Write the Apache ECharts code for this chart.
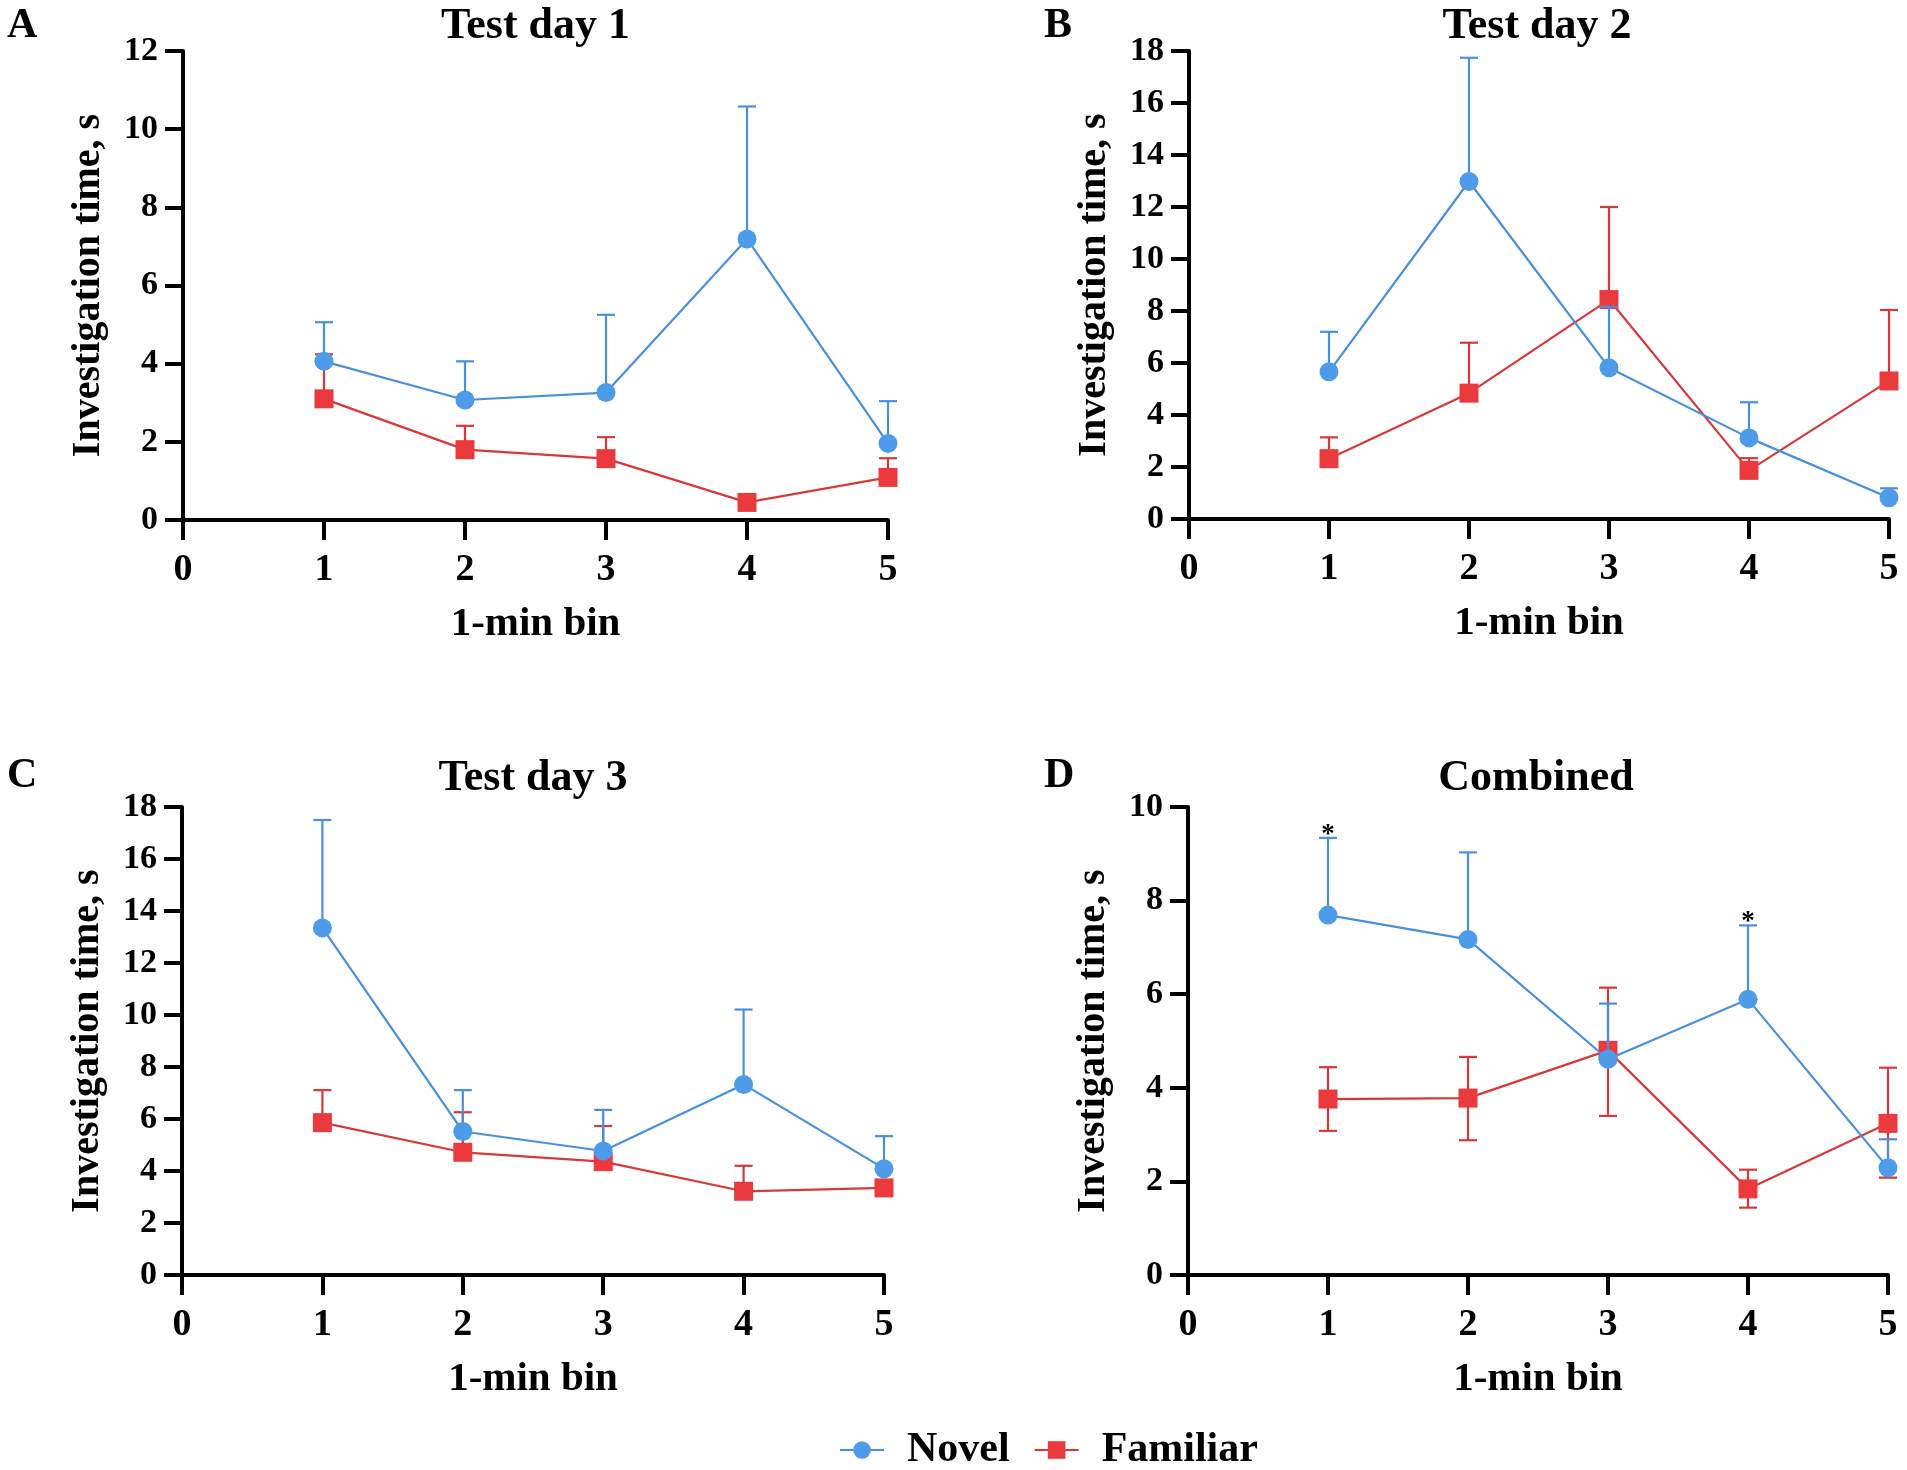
<!DOCTYPE html>
<html>
<head>
<meta charset="utf-8">
<title>Investigation time per 1-min bin</title>
<script src="https://cdn.jsdelivr.net/npm/echarts@6/dist/echarts.min.js"></script>
<style>
  html, body { margin: 0; padding: 0; background: #fff; }
  #chart { width: 1907px; height: 1470px; }
</style>
</head>
<body>
<div id="chart"></div>
<script>
  'use strict';

  // ---- data ----
  var bins = [1, 2, 3, 4, 5];
  var xTicks = [0, 1, 2, 3, 4, 5];
  var seriesNames = ['Novel', 'Familiar'];
  var panelLetters = ['A', 'B', 'C', 'D'];
  var panelTitles = ['Test day 1', 'Test day 2', 'Test day 3', 'Combined'];
  var yMax = [12, 18, 18, 10];

  // means
  var novelA = [4.06, 3.07, 3.26, 7.19, 1.96];
  var familiarA = [3.1, 1.8, 1.57, 0.45, 1.09];
  var novelB = [5.66, 12.98, 5.82, 3.12, 0.82];
  var familiarB = [2.32, 4.84, 8.44, 1.87, 5.31];
  var novelC = [13.35, 5.52, 4.77, 7.33, 4.09];
  var familiarC = [5.86, 4.72, 4.36, 3.22, 3.35];
  var novelD = [7.69, 7.17, 4.61, 5.89, 2.29];
  var familiarD = [3.76, 3.78, 4.8, 1.84, 3.24];

  // error bar ends (upper; lower only for familiar in Combined)
  var novelHighA = [5.06, 4.06, 5.25, 10.58, 3.04];
  var familiarHighA = [4.24, 2.41, 2.12, 0.62, 1.58];
  var novelHighB = [7.2, 17.74, 8.16, 4.49, 1.18];
  var familiarHighB = [3.14, 6.78, 12.0, 2.34, 8.04];
  var novelHighC = [17.5, 7.11, 6.35, 10.21, 5.34];
  var familiarHighC = [7.11, 6.26, 5.73, 4.2, 3.6];
  var novelHighD = [9.34, 9.03, 5.8, 7.47, 2.9];
  var familiarHighD = [4.44, 4.66, 6.14, 2.25, 4.43];
  var familiarLowD = [3.08, 2.88, 3.4, 1.44, 2.08];

  // significant bins in Combined panel
  var sigBinsD = [1, 4];

  var novelMeans = [novelA, novelB, novelC, novelD];
  var familiarMeans = [familiarA, familiarB, familiarC, familiarD];
  var novelHigh = [novelHighA, novelHighB, novelHighC, novelHighD];
  var familiarHigh = [familiarHighA, familiarHighB, familiarHighC, familiarHighD];
  var familiarLow = [familiarA, familiarB, familiarC, familiarLowD];

  // ---- styling / layout ----
  var FONT = '"Liberation Serif", "Times New Roman", serif';
  var BLUE = '#4e9be9';
  var BLUE_LINE = '#4a8fdc';
  var RED = '#ea3a3e';
  var RED_LINE = '#d9383b';

  var grids = [
    { left: 183, top: 51, width: 705, height: 469 },
    { left: 1189, top: 51, width: 700, height: 468 },
    { left: 182, top: 807, width: 702, height: 468 },
    { left: 1188, top: 807, width: 700, height: 468 }
  ];

  function pairs(xs, ys) {
    return xs.map(function (x, i) { return [x, ys[i]]; });
  }

  function errorData(xs, from, to) {
    return xs.map(function (x, i) { return [x, from[i], to[i]]; });
  }

  // vertical whisker from value(1) to value(2), cap at value(2)
  function renderErrorBar(params, api) {
    var x = api.value(0);
    var pFrom = api.coord([x, api.value(1)]);
    var pTo = api.coord([x, api.value(2)]);
    var half = 9;
    var style = { stroke: api.visual('color'), lineWidth: 2.2 };
    return {
      type: 'group',
      children: [
        { type: 'line', shape: { x1: pFrom[0], y1: pFrom[1], x2: pTo[0], y2: pTo[1] }, style: style },
        { type: 'line', shape: { x1: pTo[0] - half, y1: pTo[1], x2: pTo[0] + half, y2: pTo[1] }, style: style }
      ]
    };
  }

  function renderStar(params, api) {
    var p = api.coord([api.value(0), api.value(1)]);
    return {
      type: 'text',
      x: p[0],
      y: p[1] - 3,
      style: {
        text: '*',
        fill: '#000',
        font: 'bold 27px ' + FONT,
        align: 'center',
        verticalAlign: 'middle'
      }
    };
  }

  var xAxes = [];
  var yAxes = [];
  var series = [];
  var graphics = [];

  grids.forEach(function (g, i) {
    xAxes.push({
      gridIndex: i,
      type: 'value',
      min: 0,
      max: 5,
      interval: 1,
      name: '1-min bin',
      nameLocation: 'middle',
      nameGap: 84,
      nameTextStyle: { fontFamily: FONT, fontWeight: 'bold', fontSize: 41, color: '#000' },
      axisLine: { show: true, onZero: false, lineStyle: { color: '#000', width: 4 } },
      axisTick: { show: true, length: 20, lineStyle: { color: '#000', width: 4 } },
      splitLine: { show: false },
      axisLabel: {
        margin: 31,
        fontFamily: FONT,
        fontWeight: 'bold',
        fontSize: 38,
        color: '#000',
        formatter: function (v) { return xTicks.indexOf(v) >= 0 ? String(v) : ''; }
      }
    });
    yAxes.push({
      gridIndex: i,
      type: 'value',
      min: 0,
      max: yMax[i],
      interval: 2,
      name: 'Investigation time, s',
      nameLocation: 'middle',
      nameGap: 74,
      nameTextStyle: { fontFamily: FONT, fontWeight: 'bold', fontSize: 40, color: '#000' },
      axisLine: { show: true, lineStyle: { color: '#000', width: 4 } },
      axisTick: { show: true, length: 18, lineStyle: { color: '#000', width: 4 } },
      splitLine: { show: false },
      axisLabel: { margin: 25, fontFamily: FONT, fontWeight: 'bold', fontSize: 34, color: '#000' }
    });

    // familiar first so novel sits on top
    series.push({
      name: 'FamiliarErr',
      type: 'custom',
      xAxisIndex: i,
      yAxisIndex: i,
      renderItem: renderErrorBar,
      itemStyle: { color: RED_LINE },
      data: errorData(bins, familiarMeans[i], familiarHigh[i]),
      z: 2
    });
    if (familiarLow[i] !== familiarMeans[i]) {
      series.push({
        name: 'FamiliarErrLow',
        type: 'custom',
        xAxisIndex: i,
        yAxisIndex: i,
        renderItem: renderErrorBar,
        itemStyle: { color: RED_LINE },
        data: errorData(bins, familiarMeans[i], familiarLow[i]),
        z: 2
      });
    }
    series.push({
      name: 'Familiar',
      type: 'line',
      xAxisIndex: i,
      yAxisIndex: i,
      data: pairs(bins, familiarMeans[i]),
      symbol: 'rect',
      symbolSize: 19,
      showSymbol: true,
      itemStyle: { color: RED },
      lineStyle: { color: RED_LINE, width: 2.2 },
      z: 3
    });
    series.push({
      name: 'NovelErr',
      type: 'custom',
      xAxisIndex: i,
      yAxisIndex: i,
      renderItem: renderErrorBar,
      itemStyle: { color: BLUE_LINE },
      data: errorData(bins, novelMeans[i], novelHigh[i]),
      z: 4
    });
    series.push({
      name: 'Novel',
      type: 'line',
      xAxisIndex: i,
      yAxisIndex: i,
      data: pairs(bins, novelMeans[i]),
      symbol: 'circle',
      symbolSize: 19,
      showSymbol: true,
      itemStyle: { color: BLUE },
      lineStyle: { color: BLUE_LINE, width: 2.2 },
      z: 5
    });

    graphics.push({
      type: 'text',
      left: i % 2 === 0 ? 7 : 1044,
      top: i < 2 ? 5 : 755,
      style: { text: panelLetters[i], fill: '#000', font: 'bold 42px ' + FONT }
    });
    graphics.push({
      type: 'text',
      x: g.left + g.width / 2 - (i % 2 === 0 ? 0 : 2),
      y: i < 2 ? 27 : 779,
      style: {
        text: panelTitles[i],
        fill: '#000',
        font: 'bold 44px ' + FONT,
        align: 'center',
        verticalAlign: 'middle'
      }
    });
  });

  // asterisks over the Combined panel
  series.push({
    name: 'Sig',
    type: 'custom',
    xAxisIndex: 3,
    yAxisIndex: 3,
    renderItem: renderStar,
    data: sigBinsD.map(function (b) { return [b, novelHighD[bins.indexOf(b)]]; }),
    z: 6
  });

  var chart = echarts.init(document.getElementById('chart'), null, { renderer: 'canvas' });
  chart.setOption({
    animation: false,
    backgroundColor: '#fff',
    grid: grids,
    xAxis: xAxes,
    yAxis: yAxes,
    legend: {
      data: seriesNames,
      left: 834,
      top: 1424,
      itemWidth: 44,
      itemHeight: 22,
      itemGap: 24,
      textStyle: { fontFamily: FONT, fontWeight: 'bold', fontSize: 42, color: '#000', padding: [0, 0, 0, 18] }
    },
    graphic: graphics,
    series: series
  });

  window.addEventListener('resize', function () {
    chart.resize();
  });
</script>
</body>
</html>
